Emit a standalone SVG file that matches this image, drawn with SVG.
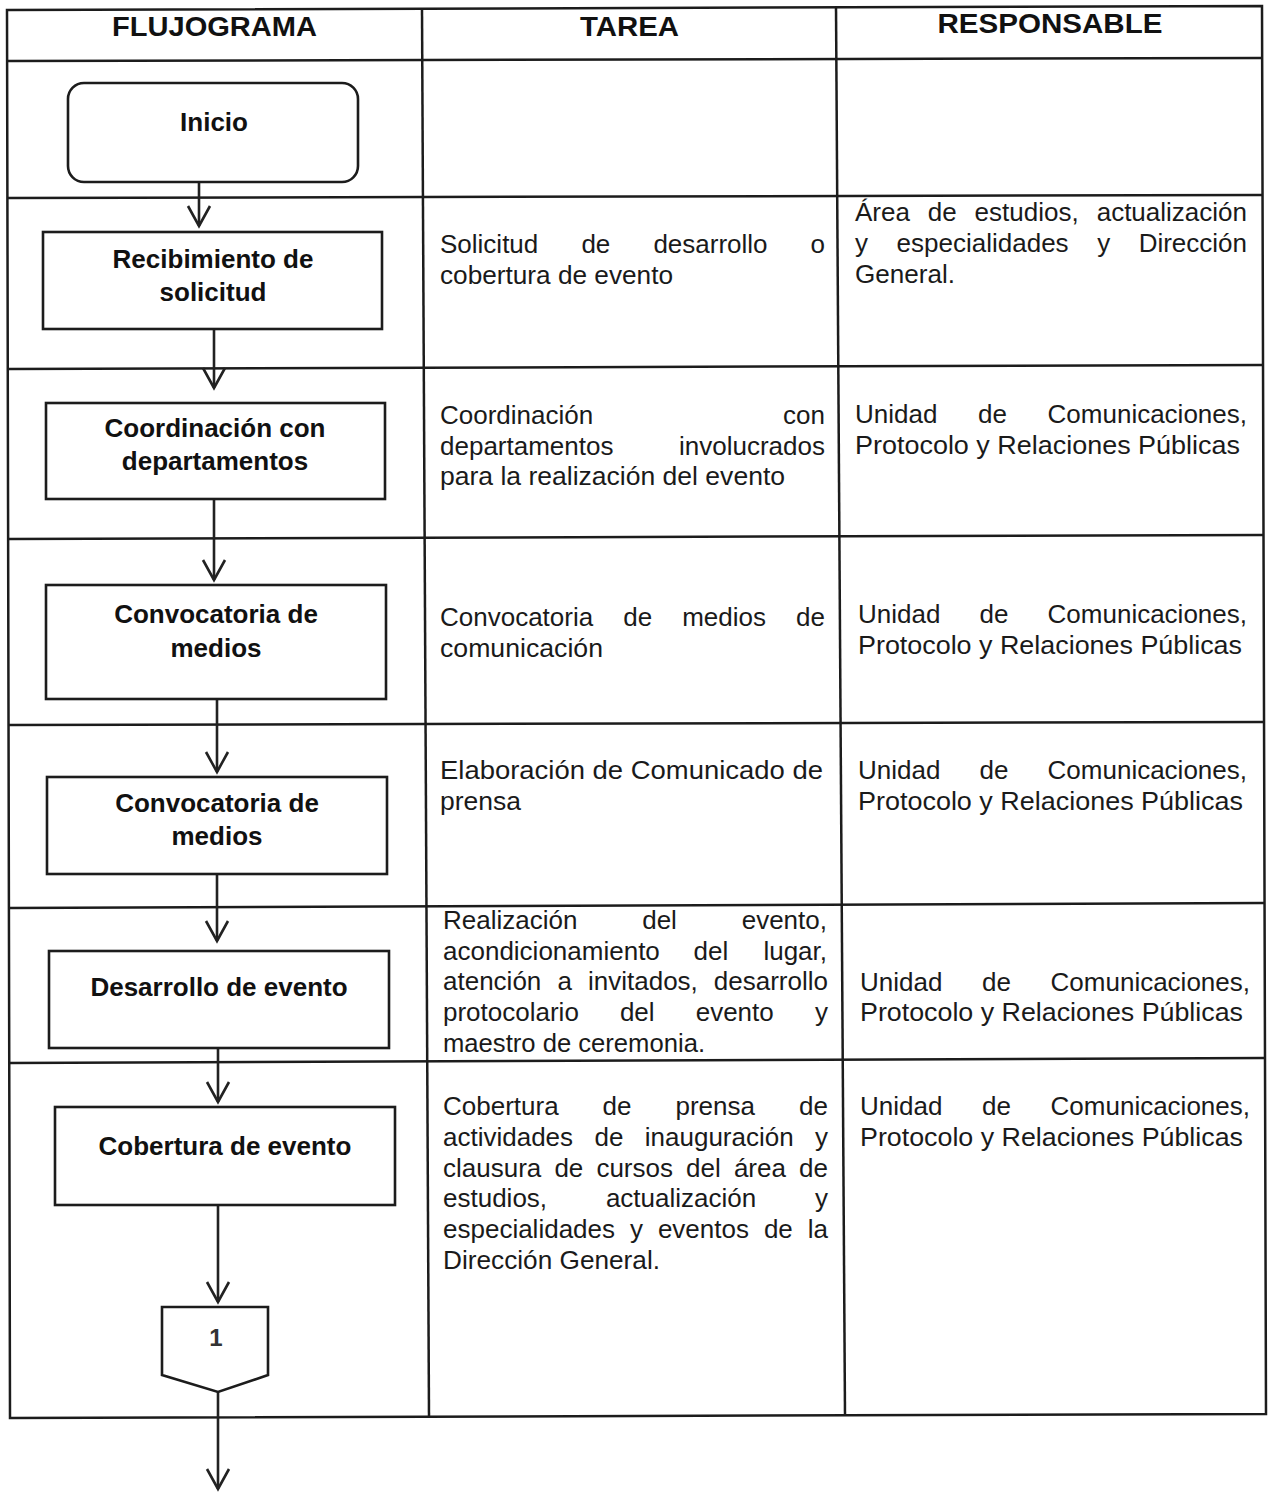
<svg xmlns="http://www.w3.org/2000/svg" width="1271" height="1495" viewBox="0 0 1271 1495">
<style>
.bg{fill:#ffffff}
.grid{stroke:#1c1c1c;stroke-width:2.5;fill:none}
.box{fill:#ffffff;stroke:#1c1c1c;stroke-width:2.6}
.con{stroke:#222;stroke-width:2.6;fill:none}
.t{font-family:"Liberation Sans",Arial,sans-serif;font-size:26px;fill:#1a1a1a}
.b{font-family:"Liberation Sans",Arial,sans-serif;font-size:26px;font-weight:bold;fill:#111;text-anchor:middle}
.h{font-family:"Liberation Sans",Arial,sans-serif;font-size:27px;font-weight:bold;fill:#111;text-anchor:middle}
.n{font-family:"Liberation Sans",Arial,sans-serif;font-size:24px;font-weight:bold;fill:#333;text-anchor:middle}
.e{text-anchor:end}
</style>
<defs>
<marker id="ah" markerUnits="userSpaceOnUse" markerWidth="30" markerHeight="30" refX="0" refY="0" orient="auto" overflow="visible">
<path d="M-20,-11 L0,0 L-20,11" fill="none" stroke="#222" stroke-width="2.6"/>
</marker>
</defs>
<rect class="bg" x="0" y="0" width="1271" height="1495"/>
<g id="table">
<path class="grid" d="M7,10 L1262,6 L1266,1414 L10,1418 Z"/>
<line class="grid" x1="422" y1="9" x2="429" y2="1418"/>
<line class="grid" x1="836" y1="7" x2="845" y2="1415"/>
<line class="grid" x1="7" y1="61" x2="1262" y2="58"/>
<line class="grid" x1="7" y1="198" x2="1262" y2="195"/>
<line class="grid" x1="8" y1="369" x2="1263" y2="365"/>
<line class="grid" x1="8" y1="539" x2="1263" y2="535"/>
<line class="grid" x1="8" y1="725" x2="1264" y2="722"/>
<line class="grid" x1="9" y1="908" x2="1264" y2="903"/>
<line class="grid" x1="9" y1="1063" x2="1265" y2="1058"/>
</g>
<g id="headers">
<text class="h" x="214.5" y="36" textLength="205" lengthAdjust="spacingAndGlyphs">FLUJOGRAMA</text>
<text class="h" x="629.5" y="36" textLength="99" lengthAdjust="spacingAndGlyphs">TAREA</text>
<text class="h" x="1050" y="33" textLength="225" lengthAdjust="spacingAndGlyphs">RESPONSABLE</text>
</g>
<g id="connectors">
<line class="con" x1="199" y1="182" x2="199" y2="226" marker-end="url(#ah)"/>
<line class="con" x1="214" y1="329" x2="214" y2="388" marker-end="url(#ah)"/>
<line class="con" x1="214" y1="499" x2="214" y2="580" marker-end="url(#ah)"/>
<line class="con" x1="217" y1="699" x2="217" y2="772" marker-end="url(#ah)"/>
<line class="con" x1="217" y1="874" x2="217" y2="941" marker-end="url(#ah)"/>
<line class="con" x1="218" y1="1048" x2="218" y2="1102" marker-end="url(#ah)"/>
<line class="con" x1="218" y1="1205" x2="218" y2="1302" marker-end="url(#ah)"/>
<line class="con" x1="218" y1="1392" x2="218" y2="1489" marker-end="url(#ah)"/>
</g>
<g id="inicio">
<rect class="box" x="68" y="83" width="290" height="99" rx="16" ry="16"/>
<text class="b" x="214" y="131">Inicio</text>
</g>
<g id="recibimiento">
<rect class="box" x="43" y="232" width="339" height="97"/>
<text class="b" x="213" y="268">Recibimiento de</text>
<text class="b" x="213" y="301">solicitud</text>
</g>
<g id="coordinacion">
<rect class="box" x="46" y="403" width="339" height="96"/>
<text class="b" x="215" y="437">Coordinación con</text>
<text class="b" x="215" y="470">departamentos</text>
</g>
<g id="convocatoria1">
<rect class="box" x="46" y="585" width="340" height="114"/>
<text class="b" x="216" y="623">Convocatoria de</text>
<text class="b" x="216" y="657">medios</text>
</g>
<g id="convocatoria2">
<rect class="box" x="47" y="777" width="340" height="97"/>
<text class="b" x="217" y="812">Convocatoria de</text>
<text class="b" x="217" y="845">medios</text>
</g>
<g id="desarrollo">
<rect class="box" x="49" y="951" width="340" height="97"/>
<text class="b" x="219" y="996">Desarrollo de evento</text>
</g>
<g id="cobertura">
<rect class="box" x="55" y="1107" width="340" height="98"/>
<text class="b" x="225" y="1155">Cobertura de evento</text>
</g>
<g id="conector1">
<path class="box" d="M162,1307 L268,1307 L268,1375 L218,1392 L162,1375 Z"/>
<text class="n" x="216" y="1346">1</text>
</g>
<g id="tareas">
<text class="t" y="253"><tspan x="440">Solicitud</tspan><tspan x="581.4">de</tspan><tspan x="653.4">desarrollo</tspan><tspan x="825" class="e">o</tspan></text>
<text class="t" x="440" y="284" textLength="233" lengthAdjust="spacingAndGlyphs">cobertura de evento</text>

<text class="t" y="424"><tspan x="440">Coordinación</tspan><tspan x="825" class="e">con</tspan></text>
<text class="t" y="455"><tspan x="440">departamentos</tspan><tspan x="825" class="e">involucrados</tspan></text>
<text class="t" x="440" y="485" textLength="345" lengthAdjust="spacingAndGlyphs">para la realización del evento</text>

<text class="t" y="626"><tspan x="440">Convocatoria</tspan><tspan x="623.3">de</tspan><tspan x="682.2">medios</tspan><tspan x="825" class="e">de</tspan></text>
<text class="t" x="440" y="657" textLength="163" lengthAdjust="spacingAndGlyphs">comunicación</text>

<text class="t" x="440" y="779" textLength="383" lengthAdjust="spacingAndGlyphs">Elaboración de Comunicado de</text>
<text class="t" x="440" y="810" textLength="81" lengthAdjust="spacingAndGlyphs">prensa</text>

<text class="t" y="929"><tspan x="443">Realización</tspan><tspan x="642.2">del</tspan><tspan x="827" class="e">evento,</tspan></text>
<text class="t" y="960"><tspan x="443">acondicionamiento</tspan><tspan x="693.5">del</tspan><tspan x="827" class="e">lugar,</tspan></text>
<text class="t" y="990"><tspan x="443">atención</tspan><tspan x="557.4">a</tspan><tspan x="588">invitados,</tspan><tspan x="828" class="e">desarrollo</tspan></text>
<text class="t" y="1021"><tspan x="443">protocolario</tspan><tspan x="619.9">del</tspan><tspan x="695.7">evento</tspan><tspan x="828" class="e">y</tspan></text>
<text class="t" x="443" y="1052" textLength="262" lengthAdjust="spacingAndGlyphs">maestro de ceremonia.</text>

<text class="t" y="1115"><tspan x="443">Cobertura</tspan><tspan x="602.6">de</tspan><tspan x="675.5">prensa</tspan><tspan x="828" class="e">de</tspan></text>
<text class="t" y="1146"><tspan x="443">actividades</tspan><tspan x="594.5">de</tspan><tspan x="644.8">inauguración</tspan><tspan x="828" class="e">y</tspan></text>
<text class="t" y="1177"><tspan x="443">clausura</tspan><tspan x="554.4">de</tspan><tspan x="596.4">cursos</tspan><tspan x="686.1">del</tspan><tspan x="733.9">área</tspan><tspan x="828" class="e">de</tspan></text>
<text class="t" y="1207"><tspan x="443">estudios,</tspan><tspan x="605.9">actualización</tspan><tspan x="828" class="e">y</tspan></text>
<text class="t" y="1238"><tspan x="443">especialidades</tspan><tspan x="630">y</tspan><tspan x="657.9">eventos</tspan><tspan x="763.9">de</tspan><tspan x="828" class="e">la</tspan></text>
<text class="t" x="443" y="1269" textLength="217" lengthAdjust="spacingAndGlyphs">Dirección General.</text>
</g>
<g id="responsables">
<text class="t" y="221"><tspan x="855">Área</tspan><tspan x="927.8">de</tspan><tspan x="974.6">estudios,</tspan><tspan x="1247" class="e">actualización</tspan></text>
<text class="t" y="252"><tspan x="855">y</tspan><tspan x="896.6">especialidades</tspan><tspan x="1097.2">y</tspan><tspan x="1247" class="e">Dirección</tspan></text>
<text class="t" x="855" y="283" textLength="100" lengthAdjust="spacingAndGlyphs">General.</text>

<text class="t" y="423"><tspan x="855">Unidad</tspan><tspan x="978">de</tspan><tspan x="1247" class="e">Comunicaciones,</tspan></text>
<text class="t" x="855" y="454" textLength="385" lengthAdjust="spacingAndGlyphs">Protocolo y Relaciones Públicas</text>

<text class="t" y="623"><tspan x="858">Unidad</tspan><tspan x="979.5">de</tspan><tspan x="1247" class="e">Comunicaciones,</tspan></text>
<text class="t" x="858" y="654" textLength="384" lengthAdjust="spacingAndGlyphs">Protocolo y Relaciones Públicas</text>

<text class="t" y="779"><tspan x="858">Unidad</tspan><tspan x="979.5">de</tspan><tspan x="1247" class="e">Comunicaciones,</tspan></text>
<text class="t" x="858" y="810" textLength="385" lengthAdjust="spacingAndGlyphs">Protocolo y Relaciones Públicas</text>

<text class="t" y="991"><tspan x="860">Unidad</tspan><tspan x="982">de</tspan><tspan x="1250" class="e">Comunicaciones,</tspan></text>
<text class="t" x="860" y="1021" textLength="383" lengthAdjust="spacingAndGlyphs">Protocolo y Relaciones Públicas</text>

<text class="t" y="1115"><tspan x="860">Unidad</tspan><tspan x="982">de</tspan><tspan x="1250" class="e">Comunicaciones,</tspan></text>
<text class="t" x="860" y="1146" textLength="383" lengthAdjust="spacingAndGlyphs">Protocolo y Relaciones Públicas</text>
</g>
</svg>
